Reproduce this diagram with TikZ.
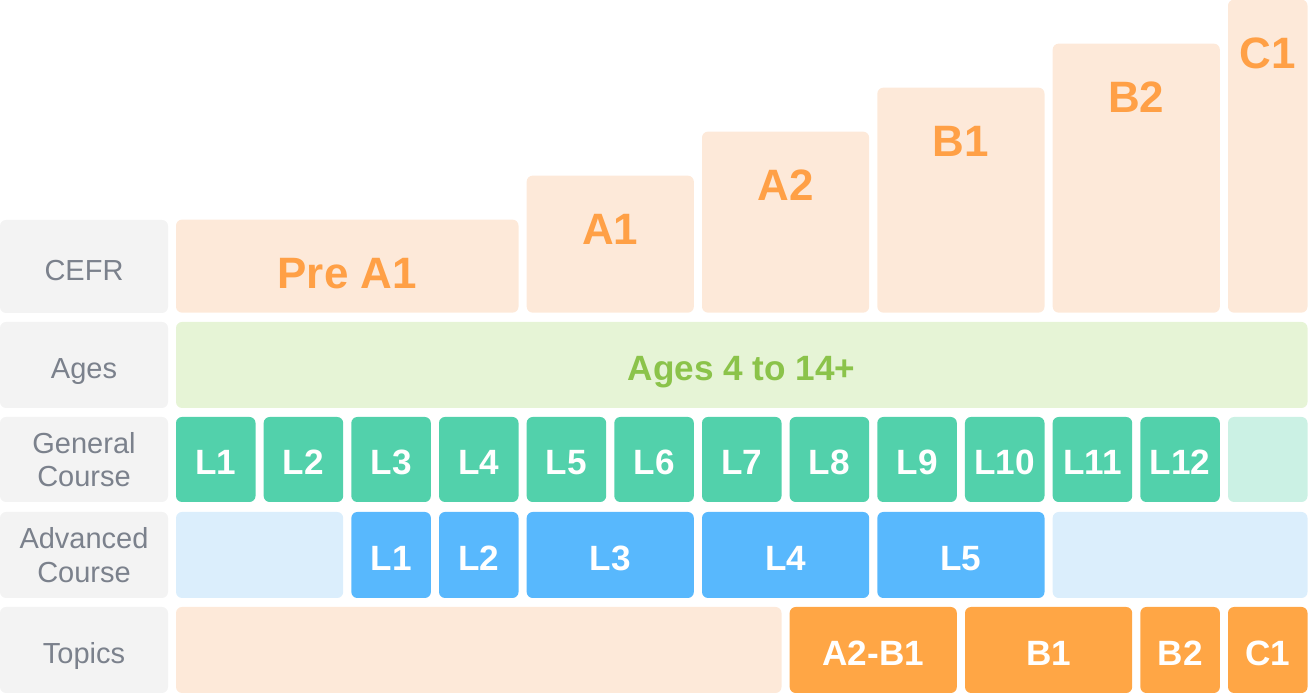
\documentclass[tikz,border=0pt]{standalone}
\usepackage{fontspec}
\setmainfont{Liberation Sans}
\usepackage{xcolor}
\usepackage{tikz}
\definecolor{LvGray}{HTML}{F3F3F3}
\definecolor{LvGrayText}{HTML}{7B818C}
\definecolor{LvPeach}{HTML}{FDE9D9}
\definecolor{LvOrange}{HTML}{FFA046}
\definecolor{LvTopic}{HTML}{FFA645}
\definecolor{LvGreen}{HTML}{52D1AB}
\definecolor{LvGreenLight}{HTML}{CBF1E4}
\definecolor{LvBlue}{HTML}{58B8FD}
\definecolor{LvBlueLight}{HTML}{DBEEFC}
\definecolor{LvAges}{HTML}{E6F4D6}
\definecolor{LvAgesText}{HTML}{8BC34A}

\tikzset{
  cell/.style={rectangle,rounded corners=0.12cm,inner sep=0pt,minimum width=1.59cm,
    minimum height=1.72cm,text=white,text height=0.62cm,text depth=0pt,
    font=\bfseries\fontsize{20}{24}\selectfont},
  rowlabel/.style={cell,fill=LvGray,minimum width=3.36cm,text=LvGrayText,align=center,
    text height=,font=\fontsize{16.5}{19}\selectfont},
  oneline/.style={text height=0.55cm},
  lvlbox/.style={cell,fill=LvPeach,anchor=south},
  lvltxt/.style={inner sep=0pt,text=LvOrange,text depth=0pt,font=\bfseries\fontsize{25}{30}\selectfont}
}

\begin{document}
\begin{tikzpicture}[x=1cm,y=1cm]
\path[use as bounding box] (0,0) rectangle (26.16,13.92);
% row labels
\node[rowlabel,oneline,minimum height=1.86cm] (lcefr) at (1.68,8.59) {CEFR};
\node[rowlabel,oneline] (lages) at (1.68,6.62) {Ages};
\node[rowlabel,minimum height=1.70cm] (lgen) at (1.68,4.73) {General\\Course};
\node[rowlabel] (ladv) at (1.68,2.82) {Advanced\\Course};
\node[rowlabel,oneline] (ltop) at (1.68,0.92) {Topics};
% CEFR steps
\node[lvlbox,minimum width=6.85cm,minimum height=1.86cm] (prea1) at (6.945,7.66) {};
\node[lvlbox,minimum width=3.343cm,minimum height=2.74cm] (a1) at (12.205,7.66) {};
\node[lvlbox,minimum width=3.343cm,minimum height=3.62cm] (a2) at (15.7115,7.66) {};
\node[lvlbox,minimum width=3.343cm,minimum height=4.50cm] (b1) at (19.2185,7.66) {};
\node[lvlbox,minimum width=3.343cm,minimum height=5.38cm] (b2) at (22.725,7.66) {};
\node[lvlbox,minimum height=6.26cm] (c1) at (25.355,7.66) {};
\node[lvltxt] (tprea1) at ([yshift=-1.08cm]prea1.north) {Pre A1};
\node[lvltxt] (ta1) at ([yshift=-1.08cm]a1.north) {A1};
\node[lvltxt] (ta2) at ([yshift=-1.08cm]a2.north) {A2};
\node[lvltxt] (tb1) at ([yshift=-1.08cm]b1.north) {B1};
\node[lvltxt] (tb2) at ([yshift=-1.08cm]b2.north) {B2};
\node[lvltxt] (tc1) at ([yshift=-1.08cm]c1.north) {C1};
% ages
\node[cell,fill=LvAges,text=LvAgesText,minimum width=22.63cm] (ages) at (14.835,6.62) {Ages 4 to 14+};
% general course
\foreach \i in {1,...,12}
  \node[cell,fill=LvGreen,minimum height=1.70cm] (gen\i) at ({4.315+(\i-1)*1.7533},4.73) {L\i};
\node[cell,fill=LvGreenLight,minimum height=1.70cm] (gen13) at (25.355,4.73) {};
% advanced course
\node[cell,fill=LvBlueLight,minimum width=3.343cm] (adv0) at (5.1915,2.82) {};
\node[cell,fill=LvBlue] (adv1) at (7.822,2.82) {L1};
\node[cell,fill=LvBlue] (adv2) at (9.575,2.82) {L2};
\node[cell,fill=LvBlue,minimum width=3.343cm] (adv3) at (12.205,2.82) {L3};
\node[cell,fill=LvBlue,minimum width=3.343cm] (adv4) at (15.7115,2.82) {L4};
\node[cell,fill=LvBlue,minimum width=3.343cm] (adv5) at (19.2185,2.82) {L5};
\node[cell,fill=LvBlueLight,minimum width=5.097cm] (adv6) at (23.6015,2.82) {};
% topics
\node[cell,fill=LvPeach,minimum width=12.11cm] (top0) at (9.575,0.92) {};
\node[cell,fill=LvTopic,minimum width=3.343cm] (topab) at (17.465,0.92) {A2-B1};
\node[cell,fill=LvTopic,minimum width=3.343cm] (topb1) at (20.9715,0.92) {B1};
\node[cell,fill=LvTopic] (topb2) at (23.602,0.92) {B2};
\node[cell,fill=LvTopic] (topc1) at (25.355,0.92) {C1};
\end{tikzpicture}
\end{document}
